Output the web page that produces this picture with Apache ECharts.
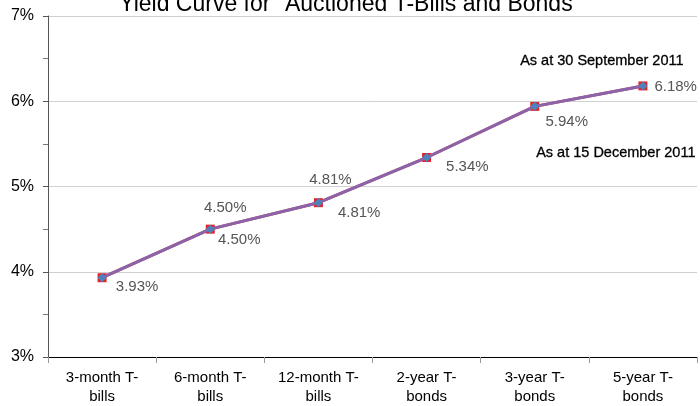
<!DOCTYPE html>
<html>
<head>
<meta charset="utf-8">
<script src="https://cdn.jsdelivr.net/npm/echarts@6/dist/echarts.min.js"></script>
<style>
  html, body { margin: 0; padding: 0; background: #fff; }
  #chart { width: 700px; height: 406px; }
</style>
</head>
<body>
<div id="chart"></div>
<script>
  const categories = ["3-month T-\nbills", "6-month T-\nbills", "12-month T-\nbills", "2-year T-\nbonds", "3-year T-\nbonds", "5-year T-\nbonds"];
  const septYields = [3.93, 4.50, 4.81, 5.34, 5.94, 6.18];
  const decYields = [3.93, 4.50, 4.81, 5.34, 5.94, 6.18];
  // label offsets per point, null = no label shown
  const septLabelOffsets = [null, [15, -4], [12, -6], null, null, [2, 1]];
  const decLabelOffsets = [[35, -8], [29, -6], [10, 10], [10, 9], [32, -2], null];

  const font = "'Liberation Sans', Arial, sans-serif";
  const chart = echarts.init(document.getElementById("chart"));

  const fmt = (p) => p.value.toFixed(2) + "%";

  const septData = septYields.map((v, i) => {
    const off = septLabelOffsets[i];
    if (!off) return { value: v };
    const position = i === septYields.length - 1 ? "right" : "top";
    return { value: v, label: { show: true, position, offset: off } };
  });

  const decData = decYields.map((v, i) => {
    const off = decLabelOffsets[i];
    if (!off) return { value: v };
    const position = off[1] > 0 ? "right" : "bottom";
    return { value: v, label: { show: true, position, offset: off } };
  });

  const labelStyle = { color: "#555", fontSize: 15, fontFamily: font, formatter: fmt };

  chart.setOption({
    animation: false,
    title: {
      text: 'Yield Curve for "Auctioned T-Bills and Bonds"',
      left: "center",
      top: -12,
      textStyle: { fontFamily: font, fontSize: 23, fontWeight: "normal", color: "#000" },
    },
    grid: { left: 48, right: 3, top: 16, bottom: 49 },
    xAxis: {
      type: "category",
      data: categories,
      boundaryGap: true,
      axisLine: { lineStyle: { color: "#000", width: 1 } },
      axisTick: { show: true, alignWithLabel: false, length: 6, lineStyle: { color: "#999" } },
      axisLabel: { color: "#000", fontSize: 15, fontFamily: font, lineHeight: 19, margin: 11 },
    },
    yAxis: {
      type: "value",
      min: 3,
      max: 7,
      interval: 1,
      axisLine: { show: true, lineStyle: { color: "#555" } },
      axisTick: { show: true, length: 5, lineStyle: { color: "#555" } },
      minorTick: { show: true, splitNumber: 2, length: 5, lineStyle: { color: "#777" } },
      splitLine: { show: true, lineStyle: { color: "#d0d0d0", width: 1 } },
      axisLabel: { color: "#000", fontSize: 16, fontFamily: font, margin: 14, formatter: (v) => v + "%" },
    },
    graphic: [
      { type: "text", left: 520, top: 53, style: { text: "As at 30 September 2011", font: "14.5px " + font, fill: "#000", stroke: "#000", lineWidth: 0.3 } },
      { type: "text", left: 536, top: 145, style: { text: "As at 15 December 2011", font: "14.5px " + font, fill: "#000", stroke: "#000", lineWidth: 0.3 } },
    ],
    series: [
      {
        name: "As at 30 September 2011",
        type: "line",
        data: septData,
        symbol: "rect",
        symbolSize: 9,
        itemStyle: { color: "#e0262c" },
        lineStyle: { color: "#c0504d", width: 3 },
        label: labelStyle,
        z: 2,
      },
      {
        name: "As at 15 December 2011",
        type: "line",
        data: decData,
        symbol: "diamond",
        symbolSize: 9,
        itemStyle: { color: "#4f81bd" },
        lineStyle: { color: "#8c63aa", width: 3 },
        label: labelStyle,
        z: 3,
      },
    ],
  });
</script>
</body>
</html>
